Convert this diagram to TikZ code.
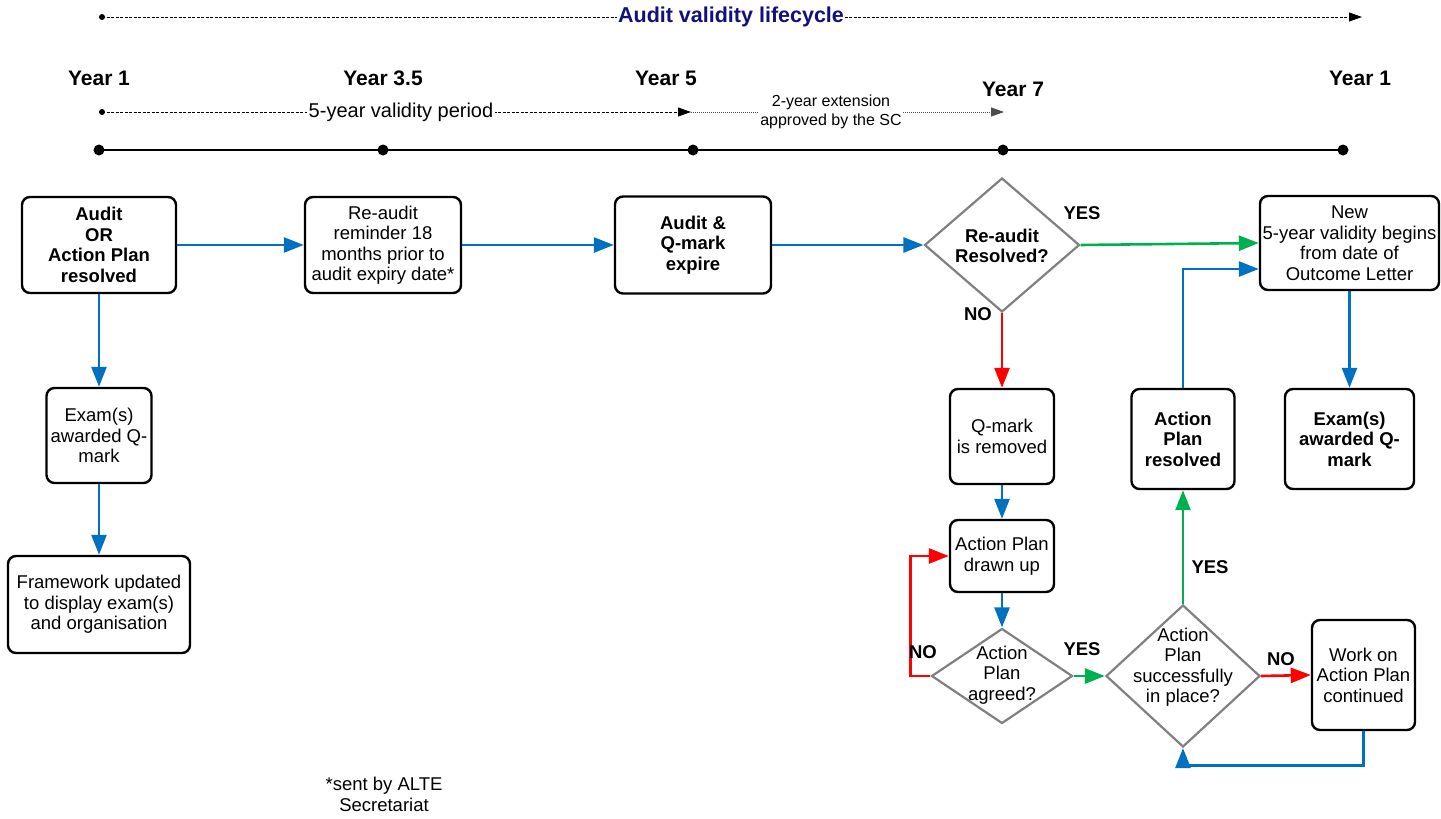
\documentclass[tikz,border=0pt]{standalone}
\usepackage{fontspec}
\setmainfont{Liberation Sans}
\usetikzlibrary{arrows.meta,shapes.geometric,calc}
\definecolor{cblue}{HTML}{0070C0}
\definecolor{cgreen}{HTML}{00B050}
\definecolor{cred}{HTML}{FF0000}
\definecolor{cgray}{HTML}{808080}
\definecolor{cnavy}{HTML}{10107F}
\begin{document}
\begin{tikzpicture}[x=1pt,y=-1pt,
  box/.style={draw=black, line width=2.4pt, rounded corners=8pt, fill=white, inner sep=0pt, align=center, font=\fontsize{18.5}{20.5}\selectfont},
  bbox/.style={box, font=\bfseries\fontsize{18.5}{20.5}\selectfont},
  dmd/.style={diamond, draw=cgray, line width=2.2pt, inner sep=0pt},
  dtext/.style={align=center, inner sep=0pt, font=\fontsize{18.5}{20.5}\selectfont},
  bdtext/.style={dtext, font=\bfseries\fontsize{18.5}{20.5}\selectfont},
  flow/.style={line width=2.6pt, -{Triangle[length=20pt,width=15pt]}},
  lbl/.style={font=\bfseries\fontsize{18.5}{20}\selectfont, inner sep=0pt},
  yr/.style={font=\bfseries\fontsize{21}{23}\selectfont, inner sep=0pt},
  tlarrow/.style={line width=1pt, -{Triangle[length=13pt,width=9pt]}},
]
\useasboundingbox (0,0) rectangle (1441,819);

% ---------- timeline ----------
\coordinate (t0) at (102,17);
\coordinate (t1) at (1362,17);
\fill (t0) circle (3);
\draw[tlarrow, dash pattern=on 3pt off 1.5pt] (t0) -- (t1);
\node[fill=white, inner sep=1pt, text=cnavy, font=\bfseries\fontsize{21.5}{23}\selectfont] (title) at (731,17) {Audit validity lifecycle};

\node[yr] (y1) at (99,78) {Year 1};
\node[yr] (y35) at (383,78) {Year 3.5};
\node[yr] (y5) at (666,78) {Year 5};
\node[yr] (y7) at (1013,89) {Year 7};
\node[yr] (y1b) at (1360,78) {Year 1};

\coordinate (p0) at (102,112);
\coordinate (p1) at (691,112);
\coordinate (p2) at (1004,112);
\fill (p0) circle (3);
\draw[tlarrow, dash pattern=on 3pt off 1.5pt] (p0) -- (p1);
\draw[tlarrow, line width=0.8pt, dash pattern=on 1pt off 1pt, black!70] (p1) -- (p2);
\node[fill=white, inner sep=2pt, font=\fontsize{20}{22}\selectfont] (vp) at (401,112) {5-year validity period};
\node[fill=white, inner sep=1pt, align=center, font=\fontsize{16}{19}\selectfont] (ext) at (831,112) {2-year extension\\approved by the SC};

\coordinate (l0) at (99,150);
\coordinate (l1) at (383,150);
\coordinate (l2) at (693,150);
\coordinate (l3) at (1003,150);
\coordinate (l4) at (1343,150);
\draw[line width=1.6pt] (l0) -- (l4);
\foreach \c in {l0,l1,l2,l3,l4} \fill (\c) circle (5.5);

% ---------- boxes ----------
\node[bbox, minimum width=154pt, minimum height=96pt] (A) at (99,245) {Audit\\OR\\Action Plan\\resolved};
\node[box, minimum width=156pt, minimum height=96pt] (B) at (383,245) {Re-audit\\reminder 18\\months prior to\\audit expiry date*};
\node[bbox, minimum width=156pt, minimum height=97pt] (C) at (693,245) {Audit \&\\Q-mark\\expire};
\node[box, minimum width=179pt, minimum height=94pt] (E) at (1349.5,243) {New\\5-year validity begins\\from date of\\Outcome Letter};
\node[bbox, minimum width=129pt, minimum height=100pt] (F) at (1349.5,439) {Exam(s)\\awarded Q-\\mark};
\node[bbox, minimum width=103pt, minimum height=100pt] (G) at (1183,439) {Action\\Plan\\resolved};
\node[box, minimum width=104pt, minimum height=95pt] (H) at (1002,436.5) {Q-mark\\is removed};
\node[box, minimum width=104pt, minimum height=72pt] (I) at (1002,556) {Action Plan\\drawn up};
\node[box, minimum width=103pt, minimum height=110pt] (L) at (1363.5,675) {Work on\\Action Plan\\continued};
\node[box, minimum width=105pt, minimum height=95pt] (M) at (99,435.5) {Exam(s)\\awarded Q-\\mark};
\node[box, minimum width=182pt, minimum height=97pt] (N) at (99,604.5) {Framework updated\\to display exam(s)\\and organisation};

% ---------- diamonds ----------
\node[dmd, minimum width=155pt, minimum height=134pt] (D) at (1002,245) {};
\node[bdtext] (Dt) at (1002,246) {Re-audit\\Resolved?};
\node[dmd, minimum width=141pt, minimum height=95pt] (J) at (1002,676) {};
\node[dtext] (Jt) at (1002,675) {Action\\Plan\\agreed?};
\node[dmd, minimum width=154pt, minimum height=142pt] (K) at (1183,676) {};
\node[dtext] (Kt) at (1183,667) {Action\\Plan\\successfully\\in place?};

% ---------- connectors ----------
\draw[flow, cblue] (A.east) -- (B.west);
\draw[flow, cblue] (B.east) -- (C.west);
\draw[flow, cblue] (C.east) -- (D.west);
\draw[flow, cgreen] (D.east) -- (E.west);
\draw[flow, cblue] (G.north) |- ($(E.west)+(0,26)$);
\draw[flow, cblue] (E.south) -- (F.north);
\draw[flow, cred] (D.south) -- (H.north);
\draw[flow, cblue] (H.south) -- (I.north);
\draw[flow, cblue] (I.south) -- (J.north);
\draw[flow, cred] (J.west) -- ++(-20,0) |- (I.west);
\draw[flow, cgreen] (J.east) -- (K.west);
\draw[flow, cgreen] (K.north) -- (G.south);
\draw[flow, cred] (K.east) -- (L.west);
\draw[flow, cblue] (L.south) -- ++(0,34) -| (K.south);
\draw[flow, cblue] (A.south) -- (M.north);
\draw[flow, cblue] (M.south) -- (N.north);

% ---------- labels ----------
\node[lbl] (yes1) at (1082,213) {YES};
\node[lbl] (no1) at (978,314) {NO};
\node[lbl] (no2) at (923,652) {NO};
\node[lbl] (yes2) at (1082,649) {YES};
\node[lbl] (yes3) at (1210,567) {YES};
\node[lbl] (no3) at (1281,659) {NO};

\node[align=center, inner sep=0pt, font=\fontsize{18.5}{21}\selectfont] (foot) at (384,794) {*sent by ALTE\\Secretariat};
\end{tikzpicture}
\end{document}
